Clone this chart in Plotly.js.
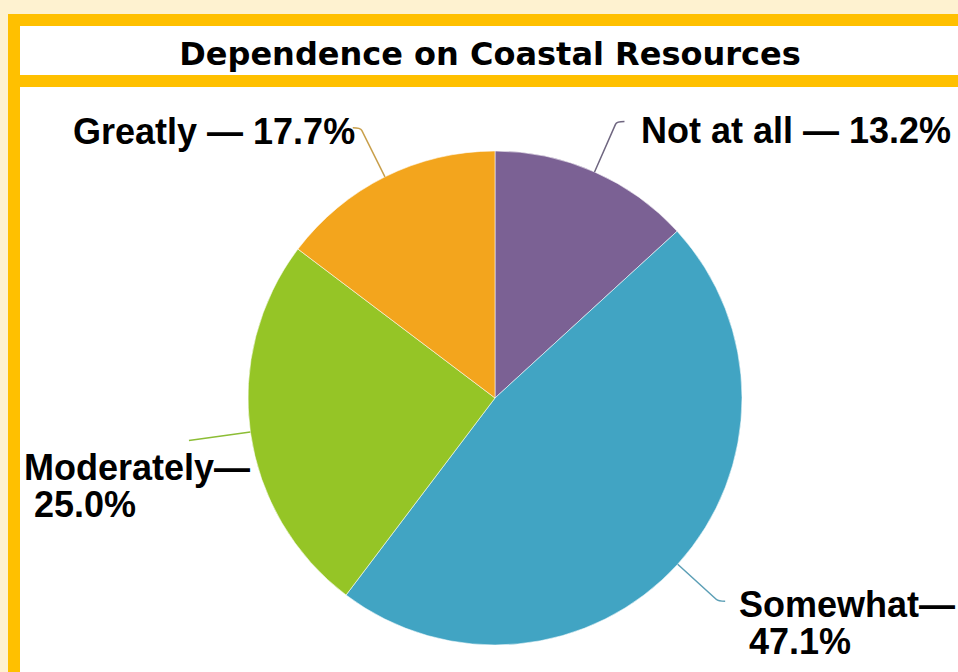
<!DOCTYPE html>
<html>
<head>
<meta charset="utf-8">
<script src="https://cdn.plot.ly/plotly-3.0.1.min.js"></script>
<style>
  html, body { margin: 0; padding: 0; background: #fef2d0; }
  #chart { width: 958px; height: 672px; }
</style>
</head>
<body>
<div id="chart"></div>
<script>
// ---- data ----
const categories = ["Not at all", "Somewhat", "Moderately", "Greatly"];
const sliceValues = [13.2, 47.1, 25.0, 14.7];          // slice sizes as drawn
const printedPercents = ["13.2%", "47.1%", "25.0%", "17.7%"]; // percentages as printed
const labelLines = [
  ["Not at all \u2014 " + printedPercents[0]],
  ["Somewhat\u2014", "\u00a0" + printedPercents[1]],
  ["Moderately\u2014", "\u00a0" + printedPercents[2]],
  ["Greatly \u2014 " + printedPercents[3]]
];
const sliceColors = ["#7b6194", "#41a4c3", "#95c526", "#f3a51d"];
const leaderColors = ["#6f6680", "#5c9fb6", "#8cbd35", "#c9a04c"];

// ---- geometry (styling) ----
const W = 958, H = 672;
const cx = 495, cy = 398, R = 247;
const px = x => x / W;
const py = y => 1 - y / H;

// label placement (styling): left x, vertical middle y of first line, line gap
const labelPos = [
  {x: 639, y: 130},
  {x: 737, y: 604},
  {x: 22,  y: 467},
  {x: 71,  y: 132}
];
const lineGap = 37;
// leader styling: radial length, tail length, tail direction
const leaderStyle = [
  {len: 52, tail: 9,  dir: 1},
  {len: 52, tail: 9,  dir: 1},
  {len: 62, tail: 0,  dir: -1},
  {len: 52, tail: 9,  dir: -1}
];

const total = sliceValues.reduce((a, b) => a + b, 0);
let cum = 0;
const shapes = [];

// frame
shapes.push({type: "rect", xref: "paper", yref: "paper", layer: "below",
  x0: px(8), x1: px(980), y0: py(14), y1: py(700), fillcolor: "#ffc000", line: {width: 0}});
shapes.push({type: "rect", xref: "paper", yref: "paper", layer: "below",
  x0: px(20), x1: px(980), y0: py(26), y1: py(75), fillcolor: "#ffffff", line: {width: 0}});
shapes.push({type: "rect", xref: "paper", yref: "paper", layer: "below",
  x0: px(20), x1: px(980), y0: py(87), y1: py(700), fillcolor: "#ffffff", line: {width: 0}});

sliceValues.forEach((v, i) => {
  const mid = (cum + v / 2) / total * 2 * Math.PI;
  cum += v;
  const ux = Math.sin(mid), uy = -Math.cos(mid);
  const s = leaderStyle[i];
  const x0 = cx + ux * R, y0 = cy + uy * R;
  const x1 = cx + ux * (R + s.len), y1 = cy + uy * (R + s.len);
  let path = `M ${px(x0)} ${py(y0)} L ${px(x1)} ${py(y1)}`;
  if (s.tail > 0) {
    const bx = x1 + ux * 3, by = y1 + uy * 3;
    path += ` Q ${px(bx)} ${py(by)} ${px(x1 + s.dir * s.tail)} ${py(by)}`;
  }
  shapes.push({type: "path", xref: "paper", yref: "paper", path: path,
    line: {color: leaderColors[i], width: 1.5}});
});

const annotations = [];
labelLines.forEach((lines, i) => {
  lines.forEach((t, j) => {
    annotations.push({
      xref: "paper", yref: "paper",
      x: px(labelPos[i].x), y: py(labelPos[i].y + j * lineGap),
      xanchor: "left", yanchor: "middle", align: "left",
      text: "<b>" + t + "</b>", showarrow: false,
      font: {family: "Liberation Sans, Arial, sans-serif", size: 36, color: "#000000"}
    });
  });
});

const trace = {
  type: "pie",
  labels: categories,
  values: sliceValues,
  sort: false,
  direction: "clockwise",
  rotation: 0,
  textinfo: "none",
  hoverinfo: "label+percent",
  marker: {colors: sliceColors, line: {color: "rgba(255,255,255,0.55)", width: 1}},
  domain: {x: [px(cx - R), px(cx + R)], y: [py(cy + R), py(cy - R)]},
  showlegend: false
};

const layout = {
  width: W, height: H,
  margin: {l: 0, r: 0, t: 0, b: 0},
  paper_bgcolor: "#fef2d0",
  plot_bgcolor: "rgba(0,0,0,0)",
  showlegend: false,
  title: {
    text: "<b>Dependence on Coastal Resources</b>",
    x: px(490), xref: "paper", xanchor: "center",
    y: py(54), yref: "paper", yanchor: "middle",
    font: {family: "DejaVu Sans, sans-serif", size: 32, color: "#000000"}
  },
  shapes: shapes,
  annotations: annotations
};

Plotly.newPlot("chart", [trace], layout, {displayModeBar: false, staticPlot: true});
</script>
</body>
</html>
